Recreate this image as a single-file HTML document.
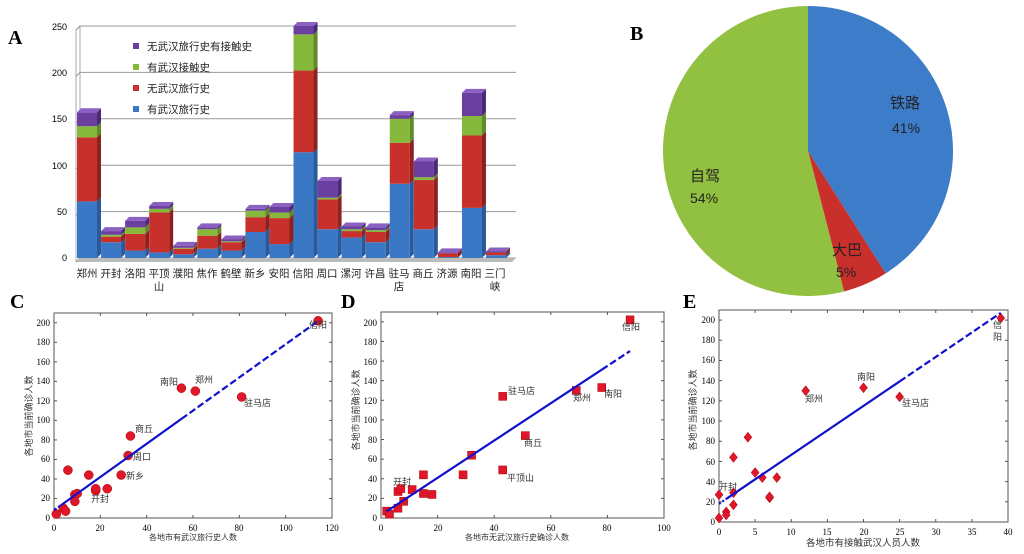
<!DOCTYPE html>
<html><head><meta charset="utf-8"><style>
body{margin:0;background:#fff;}
svg{display:block;font-family:"Liberation Serif","Noto Serif CJK SC","Noto Sans CJK SC",serif;}
.cj{font-family:"Liberation Sans","Noto Sans CJK SC",sans-serif;}
</style></head><body>
<svg id="s" width="1024" height="554" viewBox="0 0 1024 554" xmlns="http://www.w3.org/2000/svg">
<g id="A"></g><g id="P"></g><g id="C"></g><g id="D"></g><g id="E"></g>
<!-- Panel letters -->
<text x="8" y="44" font-size="20" font-weight="bold">A</text>
<text x="630" y="40" font-size="20" font-weight="bold">B</text>
<text x="10" y="308" font-size="20" font-weight="bold">C</text>
<text x="341" y="308" font-size="20" font-weight="bold">D</text>
<text x="683" y="308" font-size="20" font-weight="bold">E</text>
<!-- Panel A texts -->
<g font-size="9" text-anchor="end" class="cj">
<text x="67" y="261">0</text><text x="67" y="215">50</text><text x="67" y="169">100</text>
<text x="67" y="122">150</text><text x="67" y="76">200</text><text x="67" y="30">250</text>
</g>
<g font-size="10.5" class="cj" fill="#222">
<text x="147" y="50">无武汉旅行史有接触史</text>
<text x="147" y="71">有武汉接触史</text>
<text x="147" y="92">无武汉旅行史</text>
<text x="147" y="113">有武汉旅行史</text>
</g>
<rect x="133" y="43" width="6" height="6" fill="#6a3fa0"/>
<rect x="133" y="64" width="6" height="6" fill="#86b83c"/>
<rect x="133" y="85" width="6" height="6" fill="#c8302b"/>
<rect x="133" y="106" width="6" height="6" fill="#3a78c6"/>
<g font-size="10.5" class="cj" text-anchor="middle" fill="#222">
<text x="87" y="277">郑州</text><text x="111" y="277">开封</text><text x="135" y="277">洛阳</text>
<text x="159" y="277">平顶</text><text x="159" y="290">山</text>
<text x="183" y="277">濮阳</text><text x="207" y="277">焦作</text><text x="231" y="277">鹤壁</text>
<text x="255" y="277">新乡</text><text x="279" y="277">安阳</text><text x="303" y="277">信阳</text>
<text x="327" y="277">周口</text><text x="351" y="277">漯河</text><text x="375" y="277">许昌</text>
<text x="399" y="277">驻马</text><text x="399" y="290">店</text>
<text x="423" y="277">商丘</text><text x="447" y="277">济源</text><text x="471" y="277">南阳</text>
<text x="495" y="277">三门</text><text x="495" y="290">峡</text>
</g>
<!-- Pie texts -->
<g class="cj" fill="#222" font-size="15">
<text x="890" y="108">铁路</text><text x="892" y="133" font-size="14">41%</text>
<text x="832" y="255">大巴</text><text x="836" y="277" font-size="14">5%</text>
<text x="690" y="181">自驾</text><text x="690" y="203" font-size="14">54%</text>
</g>
<!-- C texts -->
<g font-size="9" text-anchor="middle">
<text x="54" y="531">0</text><text x="100" y="531">20</text><text x="147" y="531">40</text><text x="193" y="531">60</text><text x="239" y="531">80</text><text x="286" y="531">100</text><text x="332" y="531">120</text>
</g>
<g font-size="9" text-anchor="end">
<text x="50" y="521">0</text><text x="50" y="501">20</text><text x="50" y="482">40</text><text x="50" y="462">60</text><text x="50" y="443">80</text><text x="50" y="423">100</text><text x="50" y="404">120</text><text x="50" y="384">140</text><text x="50" y="365">160</text><text x="50" y="345">180</text><text x="50" y="326">200</text>
</g>
<g class="cj" font-size="8" fill="#333">
<text x="193" y="540" text-anchor="middle">各地市有武汉旅行史人数</text>
<text transform="translate(32,416) rotate(-90)" text-anchor="middle" font-size="9">各地市当前确诊人数</text>
<text x="160" y="385" font-size="9">南阳</text><text x="195" y="383" font-size="9">郑州</text>
<text x="244" y="406" font-size="9">驻马店</text><text x="309" y="328" font-size="9">信阳</text>
<text x="135" y="432" font-size="9">商丘</text><text x="133" y="460" font-size="9">周口</text>
<text x="126" y="479" font-size="9">新乡</text><text x="91" y="502" font-size="9">开封</text>
</g>
<!-- D texts -->
<g font-size="9" text-anchor="middle">
<text x="381" y="531">0</text><text x="438" y="531">20</text><text x="494" y="531">40</text><text x="551" y="531">60</text><text x="607" y="531">80</text><text x="664" y="531">100</text>
</g>
<g font-size="9" text-anchor="end">
<text x="377" y="521">0</text><text x="377" y="501">20</text><text x="377" y="482">40</text><text x="377" y="462">60</text><text x="377" y="443">80</text><text x="377" y="423">100</text><text x="377" y="404">120</text><text x="377" y="384">140</text><text x="377" y="365">160</text><text x="377" y="345">180</text><text x="377" y="326">200</text>
</g>
<g class="cj" font-size="9" fill="#333">
<text x="517" y="540" text-anchor="middle" font-size="8">各地市无武汉旅行史确诊人数</text>
<text transform="translate(359,410) rotate(-90)" text-anchor="middle">各地市当前确诊人数</text>
<text x="508" y="394">驻马店</text><text x="573" y="401">郑州</text><text x="604" y="397">南阳</text>
<text x="622" y="330">信阳</text><text x="524" y="446">商丘</text><text x="507" y="481">平顶山</text>
<text x="393" y="485">开封</text>
</g>
<!-- E texts -->
<g font-size="9" text-anchor="middle">
<text x="719" y="535">0</text><text x="755" y="535">5</text><text x="791" y="535">10</text><text x="827" y="535">15</text><text x="864" y="535">20</text><text x="900" y="535">25</text><text x="936" y="535">30</text><text x="972" y="535">35</text><text x="1008" y="535">40</text>
</g>
<g font-size="9" text-anchor="end">
<text x="715" y="525">0</text><text x="715" y="505">20</text><text x="715" y="485">40</text><text x="715" y="465">60</text><text x="715" y="444">80</text><text x="715" y="424">100</text><text x="715" y="404">120</text><text x="715" y="384">140</text><text x="715" y="363">160</text><text x="715" y="343">180</text><text x="715" y="323">200</text>
</g>
<g class="cj" font-size="9" fill="#333">
<text x="863" y="546" text-anchor="middle" font-size="9.5">各地市有接触武汉人员人数</text>
<text transform="translate(696,410) rotate(-90)" text-anchor="middle">各地市当前确诊人数</text>
<text x="805" y="402">郑州</text><text x="857" y="380">南阳</text><text x="902" y="406">驻马店</text>
<text x="993" y="328">信</text><text x="993" y="340">阳</text><text x="719" y="490">开封</text>
</g>
</svg>
<script>
const NS="http://www.w3.org/2000/svg";
function el(p,t,a){const e=document.createElementNS(NS,t);for(const k in a)e.setAttribute(k,a[k]);document.getElementById(p).appendChild(e);return e;}
// Panel A
const Y=v=>258-v*0.928;
// back wall / grid
el("A","path",{d:"M76 262 L80 258 L80 26 M76 262 L76 30 L80 26",stroke:"#aaa",fill:"none","stroke-width":"1"});
for(let v=0;v<=250;v+=50){el("A","path",{d:`M76 ${Y(v)+4} L80 ${Y(v)} L516 ${Y(v)}`,stroke:"#999",fill:"none","stroke-width":"1"});}
el("A","path",{d:"M76 262 L80 258 L516 258 L512 262 Z",fill:"#bbb"});
const data=[[61,130,142,157],[17,23,25,29],[8,26,33,40],[6,49,53,56],[4,10,11,13],[10,24,31,33],[8,17,18,20],[28,44,51,53],[15,43,49,55],[114,202,241,250],[31,63,65,83],[22,29,31,34],[17,28,30,33],[80,124,150,154],[31,84,87,104],[1,5,5,6],[54,132,153,178],[3,6,6,7]];
const cols=[["#3a78c6","#2a5a9a","#6a9ee0"],["#c8302b","#8e2020","#e06050"],["#86b83c","#5f8a28","#a8d060"],["#6a3fa0","#4a2a78","#8a60c0"]];
data.forEach((d,i)=>{const x=77+24.06*i,w=20;let prev=0;
 d.forEach((v,j)=>{if(v<=prev)return;const y0=Y(prev),y1=Y(v);
  el("A","rect",{x:x,y:y1,width:w,height:y0-y1,fill:cols[j][0]});
  el("A","path",{d:`M${x+w} ${y0} L${x+w+4} ${y0-4} L${x+w+4} ${y1-4} L${x+w} ${y1} Z`,fill:cols[j][1]});
  prev=v;});
 const top=Y(prev);let jt=0;d.forEach((v,j)=>{if(v>= (j?d[j-1]:0)&&v===prev&&(j===0||d[j-1]<v))jt=j;});
 el("A","path",{d:`M${x} ${top} L${x+4} ${top-4} L${x+w+4} ${top-4} L${x+w} ${top} Z`,fill:cols[jt][2]});
});
// Pie
const cx=808,cy=151,r=145;
function pt(a){a=a*Math.PI/180;return [cx+r*Math.sin(a),cy-r*Math.cos(a)];}
function slice(a0,a1,c){const p0=pt(a0),p1=pt(a1);el("P","path",{d:`M${cx} ${cy} L${p0[0]} ${p0[1]} A${r} ${r} 0 ${a1-a0>180?1:0} 1 ${p1[0]} ${p1[1]} Z`,fill:c});}
slice(0,147.6,"#3d7cc9");slice(147.6,165.6,"#c9302c");slice(165.6,360,"#92c040");
// scatter panels
function panel(id,L,R,T,B,xmax,ymax,xt,pts,shape,line){
 const X=x=>L+x*(R-L)/xmax, Yp=y=>B-y*(B-T)/ymax;
 el(id,"rect",{x:L,y:T,width:R-L,height:B-T,fill:"none",stroke:"#555","stroke-width":"1"});
 for(let v=0;v<=xmax;v+=xt){el(id,"line",{x1:X(v),x2:X(v),y1:B,y2:B-3,stroke:"#555"});el(id,"line",{x1:X(v),x2:X(v),y1:T,y2:T+3,stroke:"#555"});}
 for(let v=0;v<=200;v+=20){el(id,"line",{x1:L,x2:L+3,y1:Yp(v),y2:Yp(v),stroke:"#555"});el(id,"line",{x1:R,x2:R-3,y1:Yp(v),y2:Yp(v),stroke:"#555"});}
 pts.forEach(p=>{const x=X(p[0]),y=Yp(p[1]);
  if(shape==0)el(id,"circle",{cx:x,cy:y,r:4.5,fill:"#e0162b",stroke:"#a00","stroke-width":".5"});
  else if(shape==1)el(id,"rect",{x:x-4,y:y-4,width:8,height:8,fill:"#e0162b",stroke:"#a00","stroke-width":".5"});
  else el(id,"path",{d:`M${x} ${y-5} L${x+4} ${y} L${x} ${y+5} L${x-4} ${y} Z`,fill:"#e0162b",stroke:"#a00","stroke-width":".5"});});
 line.forEach(s=>el(id,"line",{x1:X(s[0]),y1:Yp(s[1]),x2:X(s[2]),y2:Yp(s[3]),stroke:"#1010cc","stroke-width":"2.2","stroke-dasharray":s[4]||"none"}));
}
const fC=x=>8+x*1.7;
panel("C",54,332,313,518,120,210,20,[[1,4],[4,10],[5,7],[6,49],[9,24],[9,17],[10,25],[15,44],[18,28],[18,30],[23,30],[29,44],[32,64],[33,84],[55,133],[61,130],[81,124],[114,202]],0,
 [[0,8,3,fC(3),"3,2"],[3,fC(3),55,fC(55)],[55,fC(55),114,fC(114),"7,3"]]);
const fD=x=>3+x*1.9;
panel("D",381,664,312,518,100,210,20,[[2,7],[3,4],[6,10],[6,27],[7,30],[8,17],[11,29],[15,44],[15,25],[18,24],[29,44],[32,64],[43,124],[43,49],[51,84],[69,130],[78,133],[88,202]],1,
 [[2,fD(2),78,fD(78)],[78,fD(78),88,fD(88),"7,3"]]);
const fE=x=>18+x*4.85;
panel("E",719,1008,310,522,40,210,5,[[0,4],[0,27],[1,10],[1,7],[2,17],[2,29],[2,64],[4,84],[5,49],[6,44],[7,24],[7,25],[8,44],[12,130],[20,133],[25,124],[39,202]],2,
 [[0,fE(0),1,fE(1),"2,2"],[1,fE(1),25,fE(25)],[25,fE(25),39,fE(39),"7,3"]]);
</script>
</body></html>
